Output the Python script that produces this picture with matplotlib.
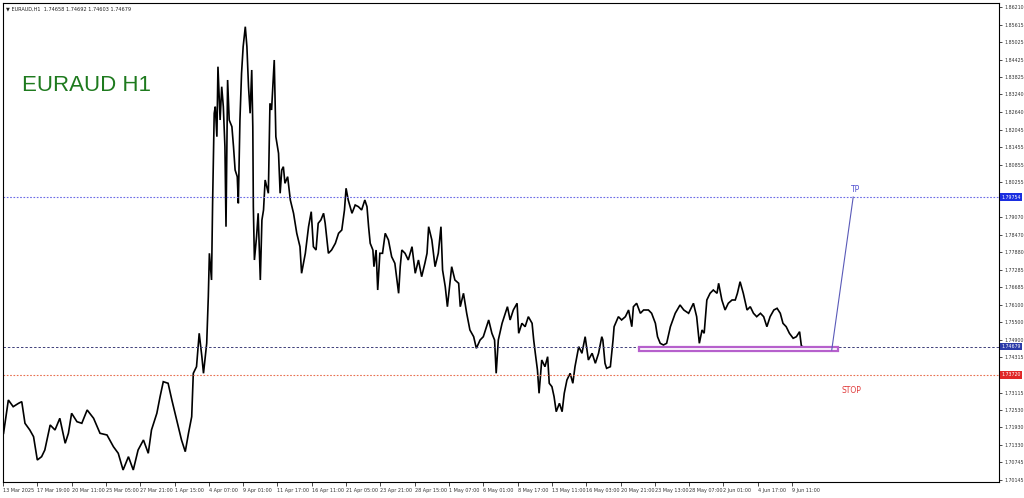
import matplotlib
matplotlib.use('Agg')
import matplotlib.pyplot as plt
from matplotlib.patches import Rectangle

# Barres H1 (index horaire) et cours
hours = [1, 10, 19, 29, 35, 41, 50, 57, 64, 72, 78, 88, 97, 106, 116, 122, 128, 138, 147, 157,
         169, 181, 194, 206, 215, 224, 234, 243, 252, 262, 271, 277, 287, 293, 299, 308, 315, 324, 333, 340,
         346, 352, 355, 361, 366, 371, 374, 380, 383, 385, 389, 391, 394, 396, 399, 401, 405, 408, 411, 414,
         416, 419, 422, 427, 430, 433, 437, 439, 442, 445, 448, 452, 455, 458, 461, 464, 466, 467, 469, 473,
         476, 480, 483, 486, 489, 492, 495, 498, 501, 506, 509, 514, 517, 520, 523, 526, 531, 536, 542, 548,
         554, 557, 564, 570, 575, 579, 584, 588, 593, 598, 601, 607, 613, 620, 626, 632, 637, 640, 644, 651,
         657, 663, 669, 675, 679, 682, 685, 690, 692, 696, 699, 703, 708, 713, 719, 725, 731, 738, 741, 744,
         750, 756, 763, 769, 775, 781, 787, 791, 794, 800, 806, 812, 817, 820, 825, 829, 833, 837, 843, 850,
         853, 859, 865, 871, 878, 883, 890, 896, 906, 912, 917, 920, 924, 931, 937, 941, 946, 952, 959, 962,
         968, 974, 980, 987, 990, 993, 997, 1000, 1005, 1011, 1016, 1019, 1024, 1028, 1032, 1038, 1043, 1047, 1052, 1058,
         1063, 1067, 1074, 1080, 1086, 1092, 1099, 1105, 1111, 1117, 1119, 1123, 1126, 1133, 1138, 1140, 1148, 1154, 1161, 1167,
         1173, 1176, 1182, 1189, 1195, 1204, 1210, 1217, 1221, 1226, 1232, 1238, 1245, 1254, 1263, 1270, 1279, 1288, 1294, 1299,
         1304, 1308, 1313, 1319, 1325, 1332, 1335, 1341, 1347, 1353, 1360, 1366, 1370, 1375, 1381, 1388, 1394, 1400, 1406, 1413,
         1419, 1425, 1431, 1438, 1444, 1450, 1455, 1461, 1467, 1474, 1480, 1486, 1490, 1491]
prices = [1.71731, 1.72862, 1.72635, 1.72750, 1.72805, 1.72071, 1.71844, 1.71616, 1.70825, 1.70937,
          1.71164, 1.72013, 1.71844, 1.72241, 1.71392, 1.71731, 1.72411, 1.72125, 1.72071, 1.72523,
          1.72241, 1.71731, 1.71674, 1.71276, 1.71052, 1.70485, 1.70937, 1.70485, 1.71164, 1.71504,
          1.71052, 1.71844, 1.72411, 1.72975, 1.73484, 1.73430, 1.72862, 1.72183, 1.71504, 1.71107,
          1.71731, 1.72295, 1.73769, 1.73993, 1.75128, 1.74333, 1.73769, 1.74788, 1.76371, 1.77845,
          1.76938, 1.79543, 1.82600, 1.82824, 1.81805, 1.84183, 1.82372, 1.83503, 1.82824, 1.81466,
          1.78748, 1.83731, 1.82372, 1.82145, 1.81466, 1.80674, 1.80447, 1.79543, 1.82372, 1.83958,
          1.84862, 1.85541, 1.84862, 1.83503, 1.82600, 1.84071, 1.82145, 1.79428, 1.77617, 1.78409,
          1.79204, 1.76938, 1.78976, 1.79316, 1.80335, 1.80107, 1.79883, 1.82940, 1.82712, 1.84410,
          1.81805, 1.81241, 1.79883, 1.80674, 1.80786, 1.80222, 1.80447, 1.79655, 1.79204, 1.78524,
          1.78069, 1.77166, 1.77845, 1.78748, 1.79258, 1.78069, 1.77957, 1.78864, 1.78976, 1.79204,
          1.78864, 1.77845, 1.77957, 1.78185, 1.78524, 1.78636, 1.79316, 1.80053, 1.79655, 1.79204,
          1.79485, 1.79428, 1.79316, 1.79655, 1.79428, 1.78748, 1.78185, 1.77957, 1.77390, 1.77957,
          1.76598, 1.77845, 1.77845, 1.78524, 1.78297, 1.77729, 1.77505, 1.76486, 1.77390, 1.77957,
          1.77845, 1.77617, 1.78069, 1.77166, 1.77617, 1.77050, 1.77505, 1.77845, 1.78748, 1.78297,
          1.77390, 1.77845, 1.78748, 1.77278, 1.76711, 1.76031, 1.76711, 1.77390, 1.76938, 1.76826,
          1.76031, 1.76486, 1.75807, 1.75240, 1.75012, 1.74618, 1.74900, 1.75012, 1.75580, 1.75128,
          1.74900, 1.73769, 1.74900, 1.75467, 1.75807, 1.76031, 1.75580, 1.75919, 1.76147, 1.75128,
          1.75467, 1.75352, 1.75692, 1.75467, 1.74900, 1.74449, 1.73881, 1.73090, 1.74221, 1.73993,
          1.74333, 1.73430, 1.73314, 1.72975, 1.72465, 1.72750, 1.72465, 1.73090, 1.73542, 1.73769,
          1.73430, 1.73993, 1.74673, 1.74449, 1.75012, 1.74221, 1.74449, 1.74109, 1.74449, 1.75012,
          1.74900, 1.74109, 1.73939, 1.73993, 1.74900, 1.75352, 1.75692, 1.75580, 1.75692, 1.75919,
          1.75352, 1.76031, 1.76147, 1.75807, 1.75919, 1.75919, 1.75807, 1.75467, 1.75012, 1.74788,
          1.74730, 1.74788, 1.75352, 1.75807, 1.76089, 1.75919, 1.75807, 1.76147, 1.75692, 1.74788,
          1.75240, 1.75128, 1.76259, 1.76486, 1.76598, 1.76486, 1.76826, 1.76259, 1.75919, 1.76147,
          1.76259, 1.76259, 1.76486, 1.76880, 1.76486, 1.75919, 1.76031, 1.75807, 1.75692, 1.75807,
          1.75692, 1.75352, 1.75692, 1.75919, 1.75977, 1.75807, 1.75467, 1.75352, 1.75128, 1.74958,
          1.75012, 1.75182, 1.74603, 1.74679]

time_labels = ["13 Mar 2025", "17 Mar 19:00", "20 Mar 11:00", "25 Mar 05:00", "27 Mar 21:00",
               "1 Apr 15:00", "4 Apr 07:00", "9 Apr 01:00", "11 Apr 17:00", "16 Apr 11:00",
               "21 Apr 05:00", "23 Apr 21:00", "28 Apr 15:00", "1 May 07:00", "6 May 01:00",
               "8 May 17:00", "13 May 11:00", "16 May 03:00", "20 May 21:00", "23 May 13:00",
               "28 May 07:00", "2 Jun 01:00", "4 Jun 17:00", "9 Jun 11:00"]
price_ticks = [1.86210, 1.85615, 1.85025, 1.84425, 1.83825, 1.83240, 1.82640, 1.82045, 1.81455,
               1.80855, 1.80255, 1.79670, 1.79070, 1.78470, 1.77880, 1.77285, 1.76685, 1.76100,
               1.75500, 1.74900, 1.74315, 1.73715, 1.73115, 1.72530, 1.71930, 1.71330, 1.70745,
               1.70145]

tp_price = 1.79754
last_price = 1.74679
stop_price = 1.73720
zone_start, zone_end = 1187, 1558
zone_low, zone_high = 1.74520, 1.74660
tp_arrow_start = (1546, 1.74561)
tp_arrow_end = (1586, tp_price)

fig = plt.figure(figsize=(10.24, 4.98), dpi=100)
ax = fig.add_axes([3 / 1024, 16 / 498, 996 / 1024, 479 / 498])

ax.plot(hours, prices, color='black', lw=1.2, solid_joinstyle='miter')

# niveaux horizontaux
ax.axhline(tp_price, color='#6a6ae6', lw=0.8, ls=(0, (1.5, 1.5)))
ax.axhline(last_price, color='#40407a', lw=0.7, ls=(0, (2.5, 2)))
ax.axhline(stop_price, color='#e87050', lw=0.8, ls=(0, (1.5, 1.5)))

# zone d'entrée
ax.add_patch(Rectangle((zone_start, zone_low), zone_end - zone_start, zone_high - zone_low,
                       facecolor='white', edgecolor='#b660cc', lw=1.6, zorder=3))
ax.plot([tp_arrow_start[0], tp_arrow_end[0]], [tp_arrow_start[1], tp_arrow_end[1]],
        color='#5a5ab8', lw=0.8, zorder=4)
ax.text(1590, 1.80000, "TP", color='#5050d0', fontsize=5.5, ha='center', va='center')
ax.text(1582, 1.73200, "STOP", color='#e03a3a', fontsize=5.5, ha='center', va='center')

ax.text(0.019, 0.828, "EURAUD H1", transform=ax.transAxes, color='#1e7a1e',
        fontsize=16, family='Liberation Sans', va='center', ha='left')
ax.text(0.003, 0.992, "\u25bc EURAUD,H1  1.74658 1.74692 1.74603 1.74679", transform=ax.transAxes,
        fontsize=3.6, va='top', ha='left', color='#222222')

ax.set_xlim(0, 1858)
ax.set_ylim(1.70077, 1.86346)

ax.set_xticks([64 * i for i in range(len(time_labels))])
ax.set_xticklabels(time_labels, fontsize=3.5, color='#333333')
for lab in ax.get_xticklabels():
    lab.set_ha('left')
ax.tick_params(axis='x', direction='out', length=3, width=0.5, pad=1.5)

# étiquettes cachées par les cadres de prix
hidden = {1.79670, 1.73715}
ax.yaxis.tick_right()
ax.set_yticks(price_ticks)
ax.set_yticklabels(["" if v in hidden else f"{v:.5f}" for v in price_ticks],
                   fontsize=3.4, color='#333333')
ax.tick_params(axis='y', direction='out', length=2.5, width=0.5, pad=1.5)

# étiquettes de prix surlignées
ytr = ax.get_yaxis_transform()
for val, col in [(tp_price, '#1a2ee0'), (last_price, '#2a3aa8'), (stop_price, '#e02828')]:
    ax.text(1.002, val, f"{val:.5f}", transform=ytr, fontsize=3.4, color='white', va='center',
            ha='left', bbox=dict(boxstyle='square,pad=0.3', fc=col, ec='none'), clip_on=False)

for sp in ax.spines.values():
    sp.set_linewidth(0.8)
    sp.set_color('black')

fig.savefig('out.png', dpi=100, facecolor='white')
